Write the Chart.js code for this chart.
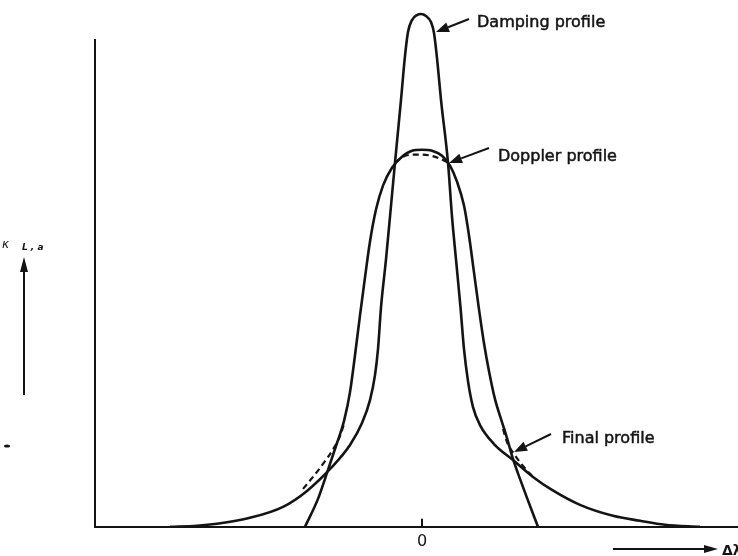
<!DOCTYPE html>
<html>
<head>
<meta charset="utf-8">
<script src="https://cdn.jsdelivr.net/npm/chart.js@4.4.1/dist/chart.umd.min.js"></script>
<style>
  html, body { margin: 0; padding: 0; background: #fff; }
  canvas { display: block; }
</style>
</head>
<body>
<canvas id="profiles" width="738" height="556"></canvas>
<script>
// values (x = wavelength offset, y = absorption, arbitrary units)
var xTicks = [0];

var dampingX = [-2.52, -2.25, -2.05, -1.72, -1.39, -1.15, -0.90, -0.72, -0.60, -0.52, -0.47, -0.44, -0.41, -0.36, -0.32, -0.27, -0.21, -0.17, -0.14, -0.10, -0.05, -0.01,
  0.04, 0.09, 0.12, 0.155, 0.19, 0.26, 0.30, 0.34, 0.385, 0.42, 0.46, 0.51, 0.58, 0.72, 0.91, 1.11, 1.30, 1.58, 1.91, 2.18, 2.43, 2.78];
var dampingY = [0, 0.01, 0.03, 0.09, 0.20, 0.36, 0.60, 0.82, 1.04, 1.27, 1.52, 1.78, 2.20, 2.68, 3.11, 3.65, 4.28, 4.72, 4.96, 5.08, 5.13, 5.14,
  5.12, 5.06, 4.95, 4.65, 4.28, 3.65, 3.11, 2.68, 2.20, 1.78, 1.46, 1.20, 1.02, 0.83, 0.67, 0.50, 0.37, 0.22, 0.11, 0.06, 0.02, 0];

var dopplerX = [-1.17, -1.04, -0.94, -0.85, -0.78, -0.72, -0.67, -0.62, -0.57, -0.52, -0.46, -0.39, -0.30, -0.20, -0.10, 0,
  0.10, 0.20, 0.28, 0.35, 0.42, 0.47, 0.52, 0.57, 0.62, 0.67, 0.73, 0.80, 0.85, 0.91, 0.98, 1.05, 1.16];
var dopplerY = [0, 0.28, 0.57, 0.84, 1.06, 1.35, 1.72, 2.12, 2.50, 2.86, 3.18, 3.42, 3.60, 3.71, 3.77, 3.78,
  3.77, 3.72, 3.62, 3.46, 3.22, 2.92, 2.55, 2.18, 1.84, 1.56, 1.28, 1.05, 0.89, 0.68, 0.48, 0.29, 0];

// final profile is only shown where it leaves the other two (null = hidden)
var finalX = [-1.19, -1.09, -0.99, -0.90, -0.82, -0.78, -0.5,
  -0.27, -0.19, -0.09, 0, 0.09, 0.18, 0.26, 0.5,
  0.81, 0.85, 0.92, 1.01, 1.11];
var finalY = [0.38, 0.50, 0.63, 0.76, 0.91, 1.03, null,
  3.65, 3.71, 3.73, 3.73, 3.72, 3.69, 3.65, null,
  0.98, 0.85, 0.73, 0.61, 0.50];

var INK = '#141414';
var FONT = '"DejaVu Sans", "Liberation Sans", sans-serif';

function pts(xs, ys) {
  return xs.map(function (x, i) { return { x: x, y: ys[i] }; });
}

function arrow(ctx, x1, y1, x2, y2, head, half) {
  var a = Math.atan2(y2 - y1, x2 - x1);
  var bx = x2 - head * Math.cos(a), by = y2 - head * Math.sin(a);
  ctx.beginPath();
  ctx.moveTo(x1, y1);
  ctx.lineTo(bx, by);
  ctx.stroke();
  ctx.beginPath();
  ctx.moveTo(x2, y2);
  ctx.lineTo(bx + half * Math.sin(a), by - half * Math.cos(a));
  ctx.lineTo(bx - half * Math.sin(a), by + half * Math.cos(a));
  ctx.closePath();
  ctx.fill();
}

function label(ctx, text, x, y) {
  ctx.fillText(text, x, y);
  ctx.strokeText(text, x, y);
}

var notes = {
  id: 'notes',
  afterDraw: function (chart) {
    var ctx = chart.ctx;
    var xs = chart.scales.x, ys = chart.scales.y;
    ctx.save();
    ctx.strokeStyle = INK;
    ctx.fillStyle = INK;
    ctx.lineWidth = 2;
    ctx.lineCap = 'butt';

    // small tick above the axis at zero
    var x0 = xs.getPixelForValue(0), yb = ys.getPixelForValue(0);
    ctx.beginPath();
    ctx.moveTo(x0, yb);
    ctx.lineTo(x0, yb - 8);
    ctx.stroke();

    // curve labels with arrows
    arrow(ctx, 469, 19, 436, 32, 13, 5);
    arrow(ctx, 489, 148, 449, 163, 13, 5);
    arrow(ctx, 551, 434, 514, 452, 13, 5);
    ctx.font = '16px ' + FONT;
    ctx.textBaseline = 'alphabetic';
    ctx.lineWidth = 0.5;
    label(ctx, 'Damping profile', 477, 27);
    label(ctx, 'Doppler profile', 498, 161);
    label(ctx, 'Final profile', 562, 443);

    // y label and upward arrow
    ctx.lineWidth = 2;
    ctx.font = 'italic 12px ' + FONT;
    ctx.fillText('\u03ba', 2, 248);
    ctx.font = 'italic bold 9px ' + FONT;
    ctx.fillText('L , a', 22, 250);
    arrow(ctx, 24, 395, 24, 257, 15, 4);

    // x direction arrow and label (cut by the page edge)
    arrow(ctx, 613, 549, 718, 549, 14, 4);
    ctx.font = 'bold 14px ' + FONT;
    ctx.fillText('\u0394\u03bb', 722, 555);

    // stray mark on the scan
    ctx.beginPath();
    ctx.ellipse(7, 446, 3, 1.6, 0, 0, Math.PI * 2);
    ctx.fill();
    ctx.restore();
  }
};

var line = { borderColor: INK, borderWidth: 2.6, pointRadius: 0, cubicInterpolationMode: 'monotone', fill: false, clip: false, spanGaps: false };

new Chart(document.getElementById('profiles'), {
  type: 'line',
  data: {
    datasets: [
      Object.assign({ label: 'Damping profile', data: pts(dampingX, dampingY) }, line),
      Object.assign({ label: 'Doppler profile', data: pts(dopplerX, dopplerY) }, line),
      Object.assign({ label: 'Final profile', data: pts(finalX, finalY) }, line, { borderDash: [6, 4], borderWidth: 2.2 })
    ]
  },
  options: {
    responsive: false,
    animation: false,
    events: [],
    layout: { padding: { left: 95, top: 40, right: 0, bottom: 0 } },
    plugins: { legend: { display: false }, tooltip: { enabled: false } },
    scales: {
      x: {
        type: 'linear',
        min: -3.27,
        max: 3.16,
        grid: { display: false, drawTicks: false, tickLength: 0 },
        border: { display: true, color: INK, width: 2 },
        afterBuildTicks: function (scale) {
          scale.ticks = xTicks.map(function (v) { return { value: v }; });
        },
        ticks: {
          color: INK,
          padding: 5,
          maxRotation: 0,
          font: { family: FONT, size: 16 },
          callback: function (v) { return String(v); }
        }
      },
      y: {
        min: 0,
        max: 4.88,
        grid: { display: false, drawTicks: false, tickLength: 0 },
        border: { display: true, color: INK, width: 2 },
        ticks: { display: false }
      }
    }
  },
  plugins: [notes]
});
</script>
</body>
</html>
